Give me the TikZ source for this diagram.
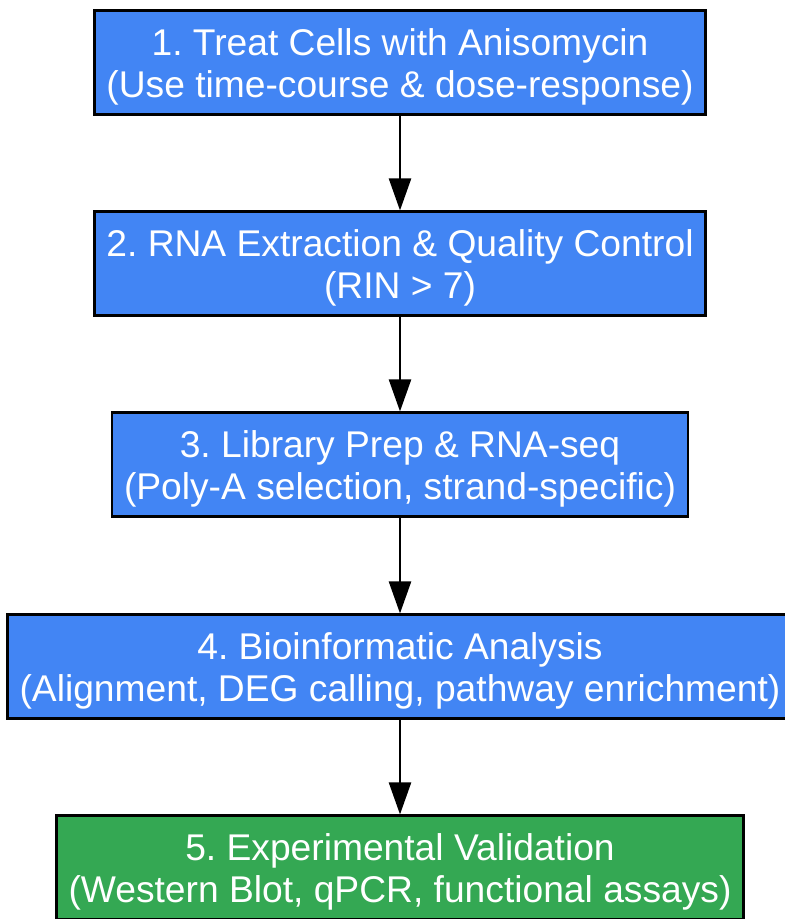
\documentclass[tikz,border=0pt]{standalone}
\usepackage{fontspec}
\setmainfont{Liberation Sans}
\usepackage{tikz}
\usetikzlibrary{arrows.meta, positioning}
\definecolor{stepblue}{HTML}{4285F4}
\definecolor{stepgreen}{HTML}{34A853}

\tikzset{
    stepbox/.style={draw=black, line width=2.6pt, fill=stepblue, text=white,
        align=center, inner xsep=12pt, minimum height=103.5pt,
        text height=77pt, text depth=8pt,
        font=\fontsize{37.2}{42}\selectfont\frenchspacing},
    flow/.style={line width=2.4pt, -{Triangle[length=32pt, width=22pt]}}
}

\begin{document}
\begin{tikzpicture}[x=1pt, y=-1pt]
    \useasboundingbox (0,0) rectangle (785,919);

    % Pipeline steps
    \node[stepbox] (treat) at (400, 62.5) {1. Treat Cells with Anisomycin\\(Use time-course \& dose-response)};
    \node[stepbox] (extract) at (400, 263.5) {2. RNA Extraction \& Quality Control\\(RIN > 7)};
    \node[stepbox] (seq) at (400, 464.5) {3. Library Prep \& RNA-seq\\(Poly-A selection, strand-specific)};
    \node[stepbox] (analysis) at (400, 666.5) {4. Bioinformatic Analysis\\(Alignment, DEG calling, pathway enrichment)};
    \node[stepbox, fill=stepgreen] (validate) at (400, 867.5) {5. Experimental Validation\\(Western Blot, qPCR, functional assays)};

    % Connections
    \draw[flow] (treat) -- (extract);
    \draw[flow] (extract) -- (seq);
    \draw[flow] (seq) -- (analysis);
    \draw[flow] (analysis) -- (validate);
\end{tikzpicture}
\end{document}
